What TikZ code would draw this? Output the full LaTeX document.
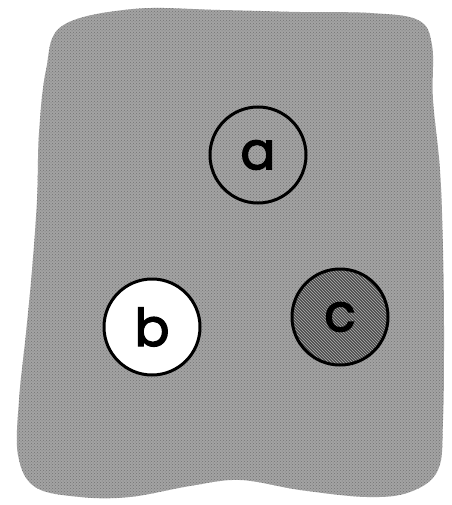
\documentclass[tikz,border=0pt]{standalone}
\usepackage{fontspec}
\setmainfont{Poppins}
\newfontfamily\ballfont{Poppins}[FakeBold=2.5]
\usetikzlibrary{patterns}
\begin{document}
\begin{tikzpicture}[x=1pt,y=-1pt,
  ball/.style={circle,draw=black,line width=3pt,minimum size=96pt,inner sep=0pt,
    font=\ballfont\fontsize{52}{52}\selectfont},
  blobfill/.style={fill=black!36},
]
\useasboundingbox (0,0) rectangle (451,505);
\def\blobpts{(62,26) (133,9) (220,10) (300,12) (370,13) (418,20) (432,45) (433,100)
 (440,170) (443,250) (444,333) (443,420) (438,470) (410,492) (367,497)
 (300,490) (240,480) (190,486) (130,497) (80,497) (35,487) (18,455)
 (19,400) (26,333) (32,270) (37,200) (39,133) (46,70)}
\path[blobfill] plot[smooth cycle,tension=0.6] coordinates {\blobpts};
\path[pattern=crosshatch dots,pattern color=black!55] plot[smooth cycle,tension=0.6] coordinates {\blobpts};
\path[fill=black!70] (340,317) circle (48pt);
\path[pattern=north west lines,pattern color=black!30] (340,317) circle (48pt);
\node[ball] (a) at (258,155) {a};
\node[ball,fill=white] (b) at (152,327) {b};
\node[ball] (c) at (340,317) {c};
\end{tikzpicture}
\end{document}
